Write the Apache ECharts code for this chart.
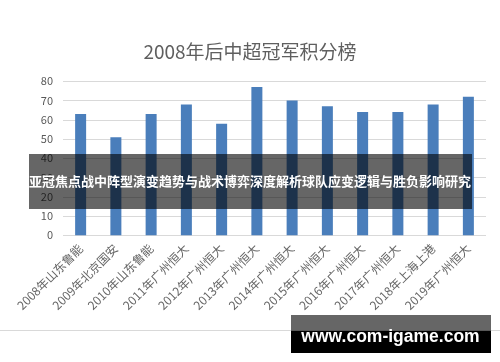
<!DOCTYPE html>
<html><head><meta charset="utf-8">
<script src="https://cdn.jsdelivr.net/npm/echarts@6/dist/echarts.min.js"></script>
<style>html,body{margin:0;padding:0;background:#fff}#c{width:500px;height:362px}</style>
</head><body><div id="c"></div>
<script>
const titleText = '2008年后中超冠军积分榜';
const categories = ['2008年山东鲁能','2009年北京国安','2010年山东鲁能','2011年广州恒大','2012年广州恒大','2013年广州恒大','2014年广州恒大','2015年广州恒大','2016年广州恒大','2017年广州恒大','2018年上海上港','2019年广州恒大'];
const points = [63, 51, 63, 68, 58, 77, 70, 67, 64, 64, 68, 72];
const yTicks = [0, 10, 20, 30, 40, 50, 60, 70, 80];
const bannerText = '亚冠焦点战中阵型演变趋势与战术博弈深度解析球队应变逻辑与胜负影响研究';
const watermarkText = 'www.com-igame.com';

const font = '"Noto Sans CJK SC", "Noto Sans", sans-serif';
const chart = echarts.init(document.getElementById('c'), null, {renderer: 'canvas'});
chart.setOption({
  animation: false,
  backgroundColor: '#fff',
  title: {
    text: titleText, left: 'center', top: 37,
    textStyle: {color: '#5f5f5f', fontSize: 19, fontWeight: 'normal', fontFamily: font}
  },
  grid: {left: 63, right: 14, top: 81.3, bottom: 126.7, containLabel: false},
  xAxis: {
    type: 'category', data: categories,
    axisLine: {show: false}, axisTick: {show: false},
    axisLabel: {rotate: 45, color: '#666', fontSize: 12, fontFamily: font, margin: 11, interval: 0}
  },
  yAxis: {
    type: 'value', min: yTicks[0], max: yTicks[yTicks.length - 1], interval: 10,
    axisLine: {show: false}, axisTick: {show: false},
    axisLabel: {color: '#595959', fontSize: 11, fontFamily: font, margin: 10},
    splitLine: {lineStyle: {color: '#d9d9d9', width: 1}}
  },
  series: [{
    type: 'bar', data: points, barWidth: 11,
    itemStyle: {color: '#4a7ebb'}
  }],
  graphic: [
    {type: 'line', shape: {x1: 0, y1: 330.5, x2: 500, y2: 330.5}, style: {stroke: '#d9d9d9', lineWidth: 1}, z: 50},
    {type: 'rect', shape: {x: 29, y: 154, width: 443, height: 55}, style: {fill: 'rgba(0,0,0,0.6)'}, z: 100},
    {type: 'text', x: 250, y: 181.5, style: {text: bannerText, fill: '#fff', font: 'bold 13px ' + font, textAlign: 'center', textVerticalAlign: 'middle'}, z: 101},
    {type: 'rect', shape: {x: 291, y: 315, width: 200, height: 16}, style: {fill: 'rgba(0,0,0,0.6)'}, z: 100},
    {type: 'rect', shape: {x: 291, y: 331, width: 200, height: 22}, style: {fill: '#000'}, z: 100},
    {type: 'text', x: 390.5, y: 337, style: {text: watermarkText, fill: '#fff', font: 'bold 17.5px "Liberation Sans", Arial, sans-serif', textAlign: 'center', textVerticalAlign: 'middle'}, z: 101}
  ]
});
</script></body></html>
